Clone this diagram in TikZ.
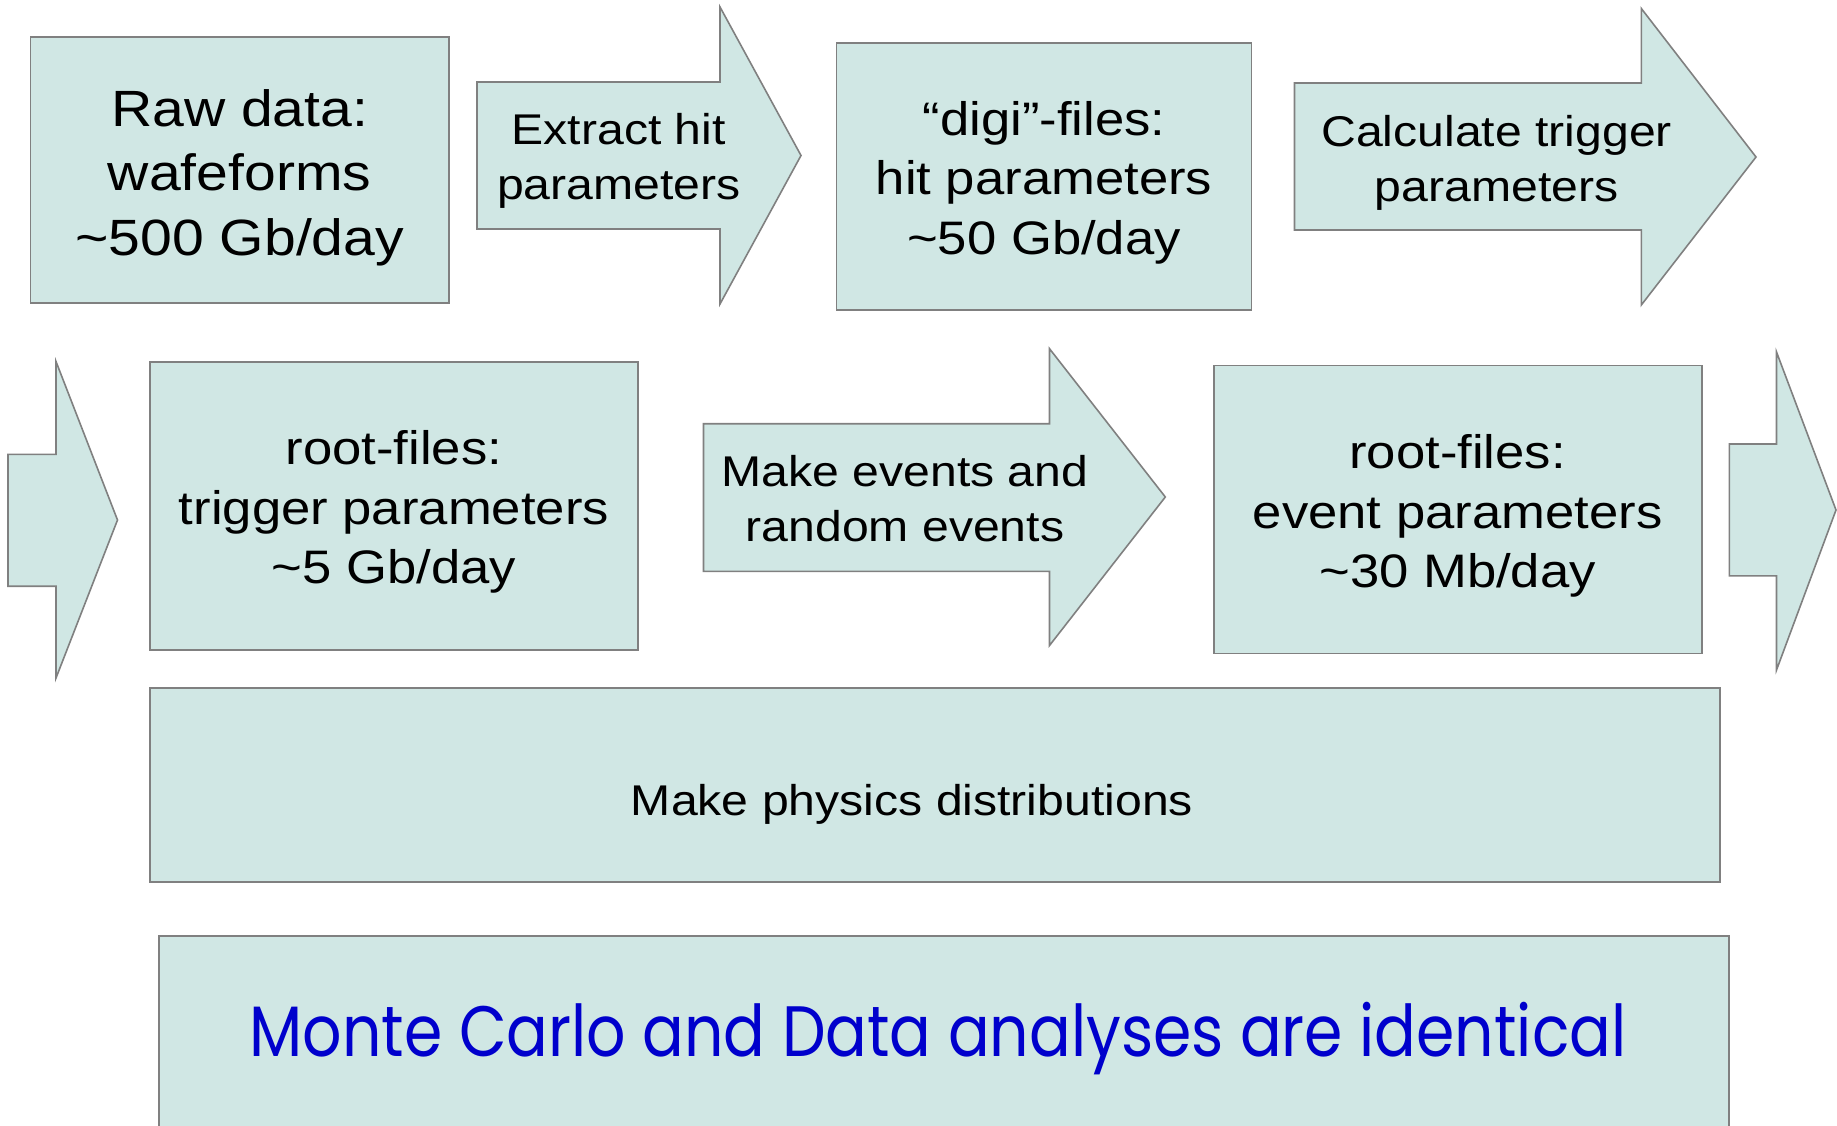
\documentclass[tikz,border=0pt]{standalone}
\usepackage{fontspec}
\usepackage{graphicx}
\setmainfont{Liberation Sans}[FakeStretch=1.12]
\newfontfamily\mcfont{Poppins}
\definecolor{boxfill}{RGB}{208,231,228}
\definecolor{boxline}{RGB}{128,128,128}
\definecolor{mcblue}{RGB}{0,0,204}
\begin{document}
\begin{tikzpicture}[x=1pt,y=-1pt,
  blk/.style={fill=boxfill, draw=boxline, line width=1.6pt},
  rbox/.style={blk, anchor=north west, inner sep=0pt, outer sep=0pt},
  bigtxt/.style={align=center, inner sep=0pt, font=\fontsize{51}{64.7}\selectfont},
  boxtxt/.style={align=center, inner sep=0pt, font=\fontsize{47}{59.5}\selectfont},
  arrtxt/.style={align=center, inner sep=0pt, font=\fontsize{43}{55}\selectfont}]
\useasboundingbox (0,0) rectangle (1837,1126);
\clip (0,0) rectangle (1837,1126);
\fill[white] (0,0) rectangle (1837,1126);

% boxes
\node[rbox, minimum width=418.8pt, minimum height=265.7pt] (raw) at (30.3,37.1) {};
\node[rbox, minimum width=415pt, minimum height=266.7pt] (digi) at (836.4,43) {};
\node[rbox, minimum width=487.8pt, minimum height=288.2pt] (rootA) at (150.2,361.8) {};
\node[rbox, minimum width=487.9pt, minimum height=287.9pt] (rootB) at (1213.8,365.6) {};
\node[rbox, minimum width=1569.9pt, minimum height=194pt] (phys) at (149.9,687.7) {};
\node[rbox, minimum width=1570pt, minimum height=400pt] (mc) at (159,935.8) {};

% block arrows
\path[blk] (477,82) -- (720,82) -- (720,7) -- (801,155.5) -- (720,304) -- (720,229) -- (477,229) -- cycle;
\path[blk] (1294.5,83) -- (1641.3,83) -- (1641.3,8.5) -- (1756,157) -- (1641.3,305) -- (1641.3,230) -- (1294.5,230) -- cycle;
\path[blk] (8,454.3) -- (56,454.3) -- (56,361.5) -- (117.5,520) -- (56,678) -- (56,586.2) -- (8,586.2) -- cycle;
\path[blk] (703.5,423.7) -- (1049.5,423.7) -- (1049.5,348.7) -- (1165.3,497) -- (1049.5,645.5) -- (1049.5,571.3) -- (703.5,571.3) -- cycle;
\path[blk] (1729.3,444) -- (1776.5,444) -- (1776.5,352) -- (1836,510) -- (1776.5,670) -- (1776.5,575.8) -- (1729.3,575.8) -- cycle;

% texts
\node[bigtxt] (rawT) at (239.7,177.6) {Raw data:\\wafeforms\\\textasciitilde 500 Gb/day};
\node[arrtxt] (extT) at (618.8,160.5) {Extract hit\\parameters};
\node[boxtxt] (digiT) at (1044,182.4) {“digi”-files:\\hit parameters\\\textasciitilde 50 Gb/day};
\node[arrtxt] (calcT) at (1496.7,162.7) {Calculate trigger\\parameters};
\node[boxtxt] (rootAT) at (394,512.2) {root-files:\\trigger parameters\\\textasciitilde 5 Gb/day};
\node[arrtxt] (evT) at (905,499) {Make events and\\random events};
\node[boxtxt] (rootBT) at (1457.6,516.3) {root-files:\\event parameters\\\textasciitilde 30 Mb/day};
\node[inner sep=0pt, font=\fontsize{43}{46.7}\selectfont] (physT) at (912,804.2) {Make physics distributions};
\node[anchor=base west, inner sep=0pt, text=mcblue] (mcT) at (249.5,1056) {\resizebox{1376.5pt}{54.3pt}{\mcfont Monte Carlo and Data analyses are identical}};
\end{tikzpicture}
\end{document}
